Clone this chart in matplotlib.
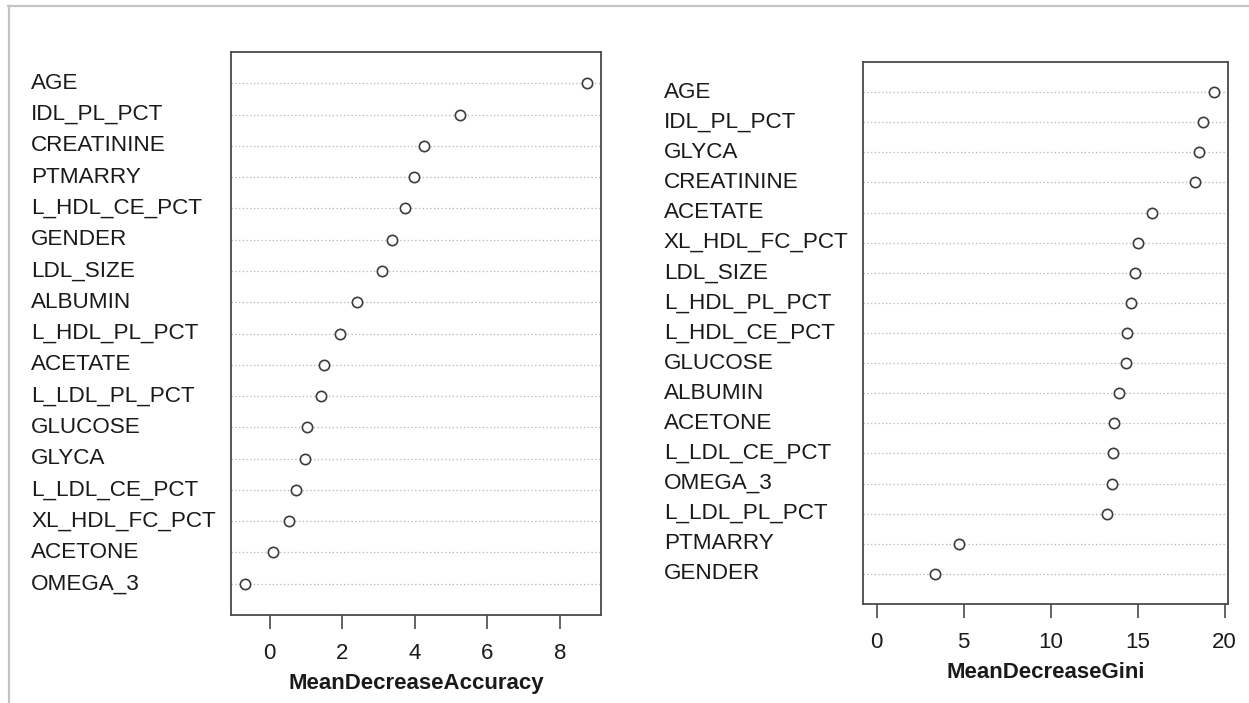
import matplotlib
matplotlib.use("Agg")
import matplotlib.pyplot as plt
from matplotlib.lines import Line2D
from matplotlib.transforms import blended_transform_factory

plt.rcParams['font.family'] = ['Liberation Sans', 'DejaVu Sans']

# Mean decrease in accuracy (top to bottom)
acc_labels = ["AGE", "IDL_PL_PCT", "CREATININE", "PTMARRY", "L_HDL_CE_PCT",
              "GENDER", "LDL_SIZE", "ALBUMIN", "L_HDL_PL_PCT", "ACETATE",
              "L_LDL_PL_PCT", "GLUCOSE", "GLYCA", "L_LDL_CE_PCT",
              "XL_HDL_FC_PCT", "ACETONE", "OMEGA_3"]
acc_values = [8.76, 5.24, 4.25, 3.97, 3.74, 3.36, 3.09, 2.42, 1.94, 1.49,
              1.42, 1.03, 0.97, 0.72, 0.54, 0.08, -0.69]
acc_ticks = [0, 2, 4, 6, 8]

# Mean decrease in Gini (top to bottom)
gini_labels = ["AGE", "IDL_PL_PCT", "GLYCA", "CREATININE", "ACETATE",
               "XL_HDL_FC_PCT", "LDL_SIZE", "L_HDL_PL_PCT", "L_HDL_CE_PCT",
               "GLUCOSE", "ALBUMIN", "ACETONE", "L_LDL_CE_PCT", "OMEGA_3",
               "L_LDL_PL_PCT", "PTMARRY", "GENDER"]
gini_values = [19.42, 18.77, 18.52, 18.29, 15.83, 15.01, 14.87, 14.64, 14.39,
               14.33, 13.93, 13.62, 13.57, 13.51, 13.26, 4.73, 3.37]
gini_ticks = [0, 5, 10, 15, 20]

W, H = 1249, 703
fig = plt.figure(figsize=(W / 100, H / 100), dpi=100)

TXT = "#1a1a1a"
BOX = "#4a4a4a"


def dotchart(rect, labels, values, ticks, xlabel, label_x, lo=None):
    ax = fig.add_axes(rect)
    n = len(values)
    ys = list(range(n, 0, -1))
    vmin = min(values) if lo is None else lo
    vmax = max(values)
    pad = (vmax - vmin) * 0.04
    ax.set_xlim(vmin - pad, vmax + pad)
    ax.set_ylim(0, n + 1)
    for y in ys:
        ax.axhline(y, color="#b5b5b5", lw=0.9, ls=(0, (1, 2)), zorder=1)
    ax.plot(values, ys, ls="none", marker="o", ms=7.4, mfc="white",
            mec="#3c3c3c", mew=1.2, zorder=3)
    trans = blended_transform_factory(fig.transFigure, ax.transData)
    for lab, y in zip(labels, ys):
        ax.text(label_x, y, lab, transform=trans, ha="left", va="center",
                fontsize=16.2, color=TXT)
    ax.set_yticks([])
    ax.set_xticks(ticks)
    ax.set_xticklabels([str(t) for t in ticks])
    ax.tick_params(axis="x", length=10, width=1.2, color=BOX, pad=10,
                   labelsize=16, labelcolor=TXT)
    for s in ax.spines.values():
        s.set_color(BOX)
        s.set_linewidth(1.3)
    ax.set_xlabel(xlabel, fontsize=16, fontweight="bold", color=TXT,
                  labelpad=7)
    return ax


dotchart([231 / W, 1 - 615 / H, (601 - 231) / W, (615 - 52) / H],
         acc_labels, acc_values, acc_ticks, "MeanDecreaseAccuracy", 31 / W)
dotchart([863 / W, 1 - 604 / H, (1228 - 863) / W, (604 - 62) / H],
         gini_labels, gini_values, gini_ticks, "MeanDecreaseGini", 664 / W,
         lo=0)

# light frame of the screenshot
fig.add_artist(Line2D([8 / W, 1], [1 - 5.5 / H, 1 - 5.5 / H],
                      transform=fig.transFigure, color="#c4c4c4", lw=1.6))
fig.add_artist(Line2D([8.5 / W, 8.5 / W], [0, 1 - 5.5 / H],
                      transform=fig.transFigure, color="#c4c4c4", lw=1.6))

fig.savefig("out.png", dpi=100)
